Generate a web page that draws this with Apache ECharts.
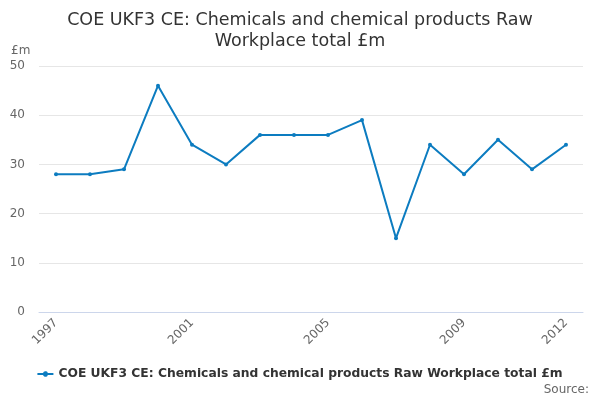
<!DOCTYPE html>
<html><head><meta charset="utf-8">
<script src="https://cdn.jsdelivr.net/npm/echarts@6/dist/echarts.min.js"></script>
<style>html,body{margin:0;padding:0;background:#fff}#c{width:600px;height:400px}</style>
</head><body><div id="c"></div>
<script>
const categories = ['1997','1998','1999','2000','2001','2002','2003','2004','2005','2006','2007','2008','2009','2010','2011','2012'];
const values = [28,28,29,46,34,30,36,36,36,39,15,34,28,35,29,34];
const seriesName = 'COE UKF3 CE: Chemicals and chemical products Raw Workplace total £m';
const yTicks = [0,10,20,30,40,50];

const chart = echarts.init(document.getElementById('c'));
chart.setOption({
  animation: false,
  textStyle: {fontFamily: 'DejaVu Sans'},
  title: {
    text: 'COE UKF3 CE: Chemicals and chemical products Raw\nWorkplace total £m',
    left: 'center', top: 5,
    textStyle: {fontFamily: 'DejaVu Sans', fontSize: 17.5, fontWeight: 'normal', color: '#333', lineHeight: 21}
  },
  grid: {left: 39, right: 17, top: 66, bottom: 88, containLabel: false},
  legend: {
    bottom: 15, left: 'center',
    itemWidth: 16, itemHeight: 8, itemGap: 10,
    textStyle: {fontFamily: 'DejaVu Sans', fontSize: 12.3, fontWeight: 'bold', color: '#333'},
    data: [{name: seriesName, icon: 'path://M0,3L5.6,3A2.5,2.5 0 0 1 10.4,3L16,3L16,5L10.4,5A2.5,2.5 0 0 1 5.6,5L0,5Z'}]
  },
  graphic: [
    {type: 'text', right: 11, bottom: 4, style: {text: 'Source:', fontFamily: 'DejaVu Sans', fontSize: 12, fill: '#666'}},
    {type: 'text', left: 11, top: 45, style: {text: '£m', fontFamily: 'DejaVu Sans', fontSize: 12, fill: '#666'}}
  ],
  xAxis: {
    type: 'category', data: categories, boundaryGap: true,
    axisLine: {lineStyle: {color: '#ccd6eb'}},
    axisTick: {alignWithLabel: true, length: 9, interval: 0, lineStyle: {color: '#ccd6eb'}},
    axisLabel: {
      rotate: 45, color: '#666', fontSize: 12, margin: 9,
      interval: (i) => i % 4 === 0 || i === categories.length - 1
    }
  },
  yAxis: {
    type: 'value', min: yTicks[0], max: yTicks[yTicks.length-1], interval: 10,
    axisLine: {show: false}, axisTick: {show: false},
    axisLabel: {color: '#666', fontSize: 12, margin: 14},
    splitLine: {lineStyle: {color: '#e6e6e6'}}
  },
  series: [{
    name: seriesName, type: 'line', data: values,
    color: '#0c7cc0',
    lineStyle: {width: 2, color: '#0c7cc0'},
    symbol: 'circle', symbolSize: 4, showSymbol: true,
    itemStyle: {color: '#0c7cc0'}
  }]
});
</script></body></html>
